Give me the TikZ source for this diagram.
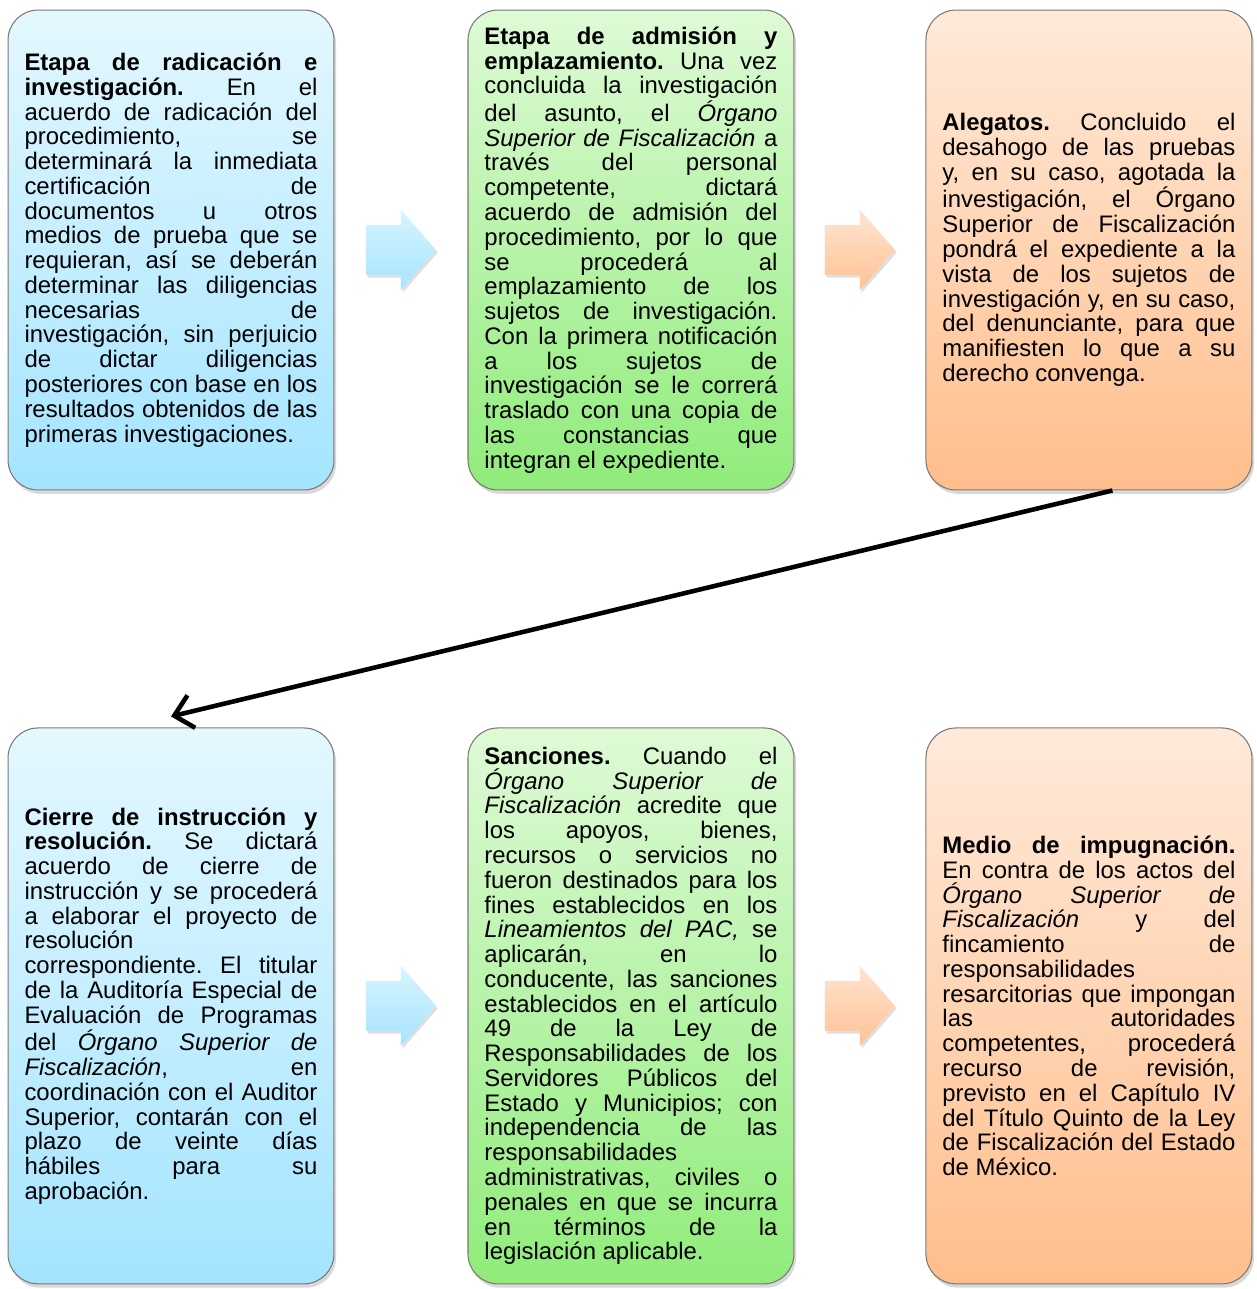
\documentclass[tikz,border=0pt]{standalone}
\usepackage{fontspec}
\setmainfont{Liberation Sans}
\usepackage{tikz}
\usetikzlibrary{positioning, calc, arrows.meta, shadows}

\definecolor{blueTop}{RGB}{228,248,255}
\definecolor{blueBot}{RGB}{164,228,255}
\definecolor{greenTop}{RGB}{222,250,214}
\definecolor{greenBot}{RGB}{144,236,122}
\definecolor{orangeTop}{RGB}{255,234,218}
\definecolor{orangeBot}{RGB}{255,190,140}
\definecolor{arrBlueTop}{RGB}{214,244,255}
\definecolor{arrBlueBot}{RGB}{166,228,255}
\definecolor{arrOrangeTop}{RGB}{255,228,208}
\definecolor{arrOrangeBot}{RGB}{255,194,148}
\definecolor{boxBorder}{RGB}{125,120,115}

\newcommand{\stagefont}{\fontsize{13.6pt}{14.1pt}\selectfont\frenchspacing\hyphenpenalty=10000\exhyphenpenalty=10000\tolerance=10000\hbadness=10000}

\begin{document}
\begin{tikzpicture}[x=0.02cm, y=-0.02cm,
    stage/.style={draw=boxBorder, line width=0.6pt, rounded corners=0.6cm, inner xsep=0.33cm, inner ysep=0pt, text width=5.86cm, align=justify, font=\stagefont, drop shadow={shadow xshift=1.2pt, shadow yshift=-2.2pt, opacity=0.3}},
    upper/.style={minimum height=9.6cm},
    lower/.style={minimum height=11.12cm},
    bluestage/.style={stage, top color=blueTop, bottom color=blueBot},
    greenstage/.style={stage, top color=greenTop, bottom color=greenBot},
    orangestage/.style={stage, top color=orangeTop, bottom color=orangeBot},
    bluearrow/.style={top color=arrBlueTop, bottom color=arrBlueBot},
    orangearrow/.style={top color=arrOrangeTop, bottom color=arrOrangeBot},
    pics/stagearrow/.style={code={
        \path[#1, drop shadow={shadow xshift=1pt, shadow yshift=-1.5pt, opacity=0.25}]
            (-0.7cm,-0.5cm) -- (0cm,-0.5cm) -- (0cm,-0.8cm) -- (0.7cm,0cm) -- (0cm,0.8cm) -- (0cm,0.5cm) -- (-0.7cm,0.5cm) -- cycle;
    }},
    flowline/.style={line width=2.6pt, -{Straight Barb[length=10pt, width=19pt]}}
]
\useasboundingbox (0,0) rectangle (1257,1289);

% etapas, fila superior
\node[bluestage, upper] (radicacion) at (171,250) {\textbf{Etapa de radicación e\linebreak investigación.} En el\linebreak acuerdo de radicación del\linebreak procedimiento, se\linebreak determinará la inmediata\linebreak certificación de\linebreak documentos u otros\linebreak medios de prueba que se\linebreak requieran, así se deberán\linebreak determinar las diligencias\linebreak necesarias de\linebreak investigación, sin perjuicio\linebreak de dictar diligencias\linebreak posteriores con base en los\linebreak resultados obtenidos de las\linebreak primeras investigaciones.};
\node[greenstage, upper, right=2.66cm of radicacion] (admision) {\textbf{Etapa de admisión y\linebreak emplazamiento.} Una vez\linebreak concluida la investigación\linebreak del asunto, el \emph{Órgano}\linebreak \emph{Superior de Fiscalización} a\linebreak través del personal\linebreak competente, dictará\linebreak acuerdo de admisión del\linebreak procedimiento, por lo que\linebreak se procederá al\linebreak emplazamiento de los\linebreak sujetos de investigación.\linebreak Con la primera notificación\linebreak a los sujetos de\linebreak investigación se le correrá\linebreak traslado con una copia de\linebreak las constancias que\linebreak integran el expediente.};
\node[orangestage, upper, right=2.62cm of admision] (alegatos) {\textbf{Alegatos.} Concluido el\linebreak desahogo de las pruebas\linebreak y, en su caso, agotada la\linebreak investigación, el Órgano\linebreak Superior de Fiscalización\linebreak pondrá el expediente a la\linebreak vista de los sujetos de\linebreak investigación y, en su caso,\linebreak del denunciante, para que\linebreak manifiesten lo que a su\linebreak derecho convenga.};

% etapas, fila inferior
\node[bluestage, lower, below=4.74cm of radicacion] (cierre) {\textbf{Cierre de instrucción y\linebreak resolución.} Se dictará\linebreak acuerdo de cierre de\linebreak instrucción y se procederá\linebreak a elaborar el proyecto de\linebreak resolución\newline correspondiente. El titular\linebreak de la Auditoría Especial de\linebreak Evaluación de Programas\linebreak del \emph{Órgano Superior de}\linebreak \emph{Fiscalización}, en\linebreak coordinación con el Auditor\linebreak Superior, contarán con el\linebreak plazo de veinte días\linebreak hábiles para su\linebreak aprobación.};
\node[greenstage, lower, right=2.66cm of cierre] (sanciones) {\textbf{Sanciones.} Cuando el\linebreak \emph{Órgano Superior de}\linebreak \emph{Fiscalización} acredite que\linebreak los apoyos, bienes,\linebreak recursos o servicios no\linebreak fueron destinados para los\linebreak fines establecidos en los\linebreak \emph{Lineamientos del PAC,} se\linebreak aplicarán, en lo\linebreak conducente, las sanciones\linebreak establecidos en el artículo\linebreak 49 de la Ley de\linebreak Responsabilidades de los\linebreak Servidores Públicos del\linebreak Estado y Municipios; con\linebreak independencia de las\linebreak responsabilidades\newline administrativas, civiles o\linebreak penales en que se incurra\linebreak en términos de la\linebreak legislación aplicable.};
\node[orangestage, lower, right=2.62cm of sanciones] (impugnacion) {\textbf{Medio de impugnación.}\linebreak En contra de los actos del\linebreak \emph{Órgano Superior de}\linebreak \emph{Fiscalización} y del\linebreak fincamiento de\linebreak responsabilidades\newline resarcitorias que impongan\linebreak las autoridades\linebreak competentes, procederá\linebreak recurso de revisión,\linebreak previsto en el Capítulo IV\linebreak del Título Quinto de la Ley\linebreak de Fiscalización del Estado\linebreak de México.};

% flechas entre etapas
\pic at ($(radicacion.east)!0.5!(admision.west)$) {stagearrow=bluearrow};
\pic at ($(admision.east)!0.5!(alegatos.west)$) {stagearrow=orangearrow};
\pic at ($(cierre.east)!0.5!(sanciones.west)$) {stagearrow=bluearrow};
\pic at ($(sanciones.east)!0.5!(impugnacion.west)$) {stagearrow=orangearrow};

% paso a la segunda fila
\draw[flowline] ([xshift=0.47cm]alegatos.south) -- ([yshift=0.22cm]cierre.north);

\end{tikzpicture}
\end{document}
